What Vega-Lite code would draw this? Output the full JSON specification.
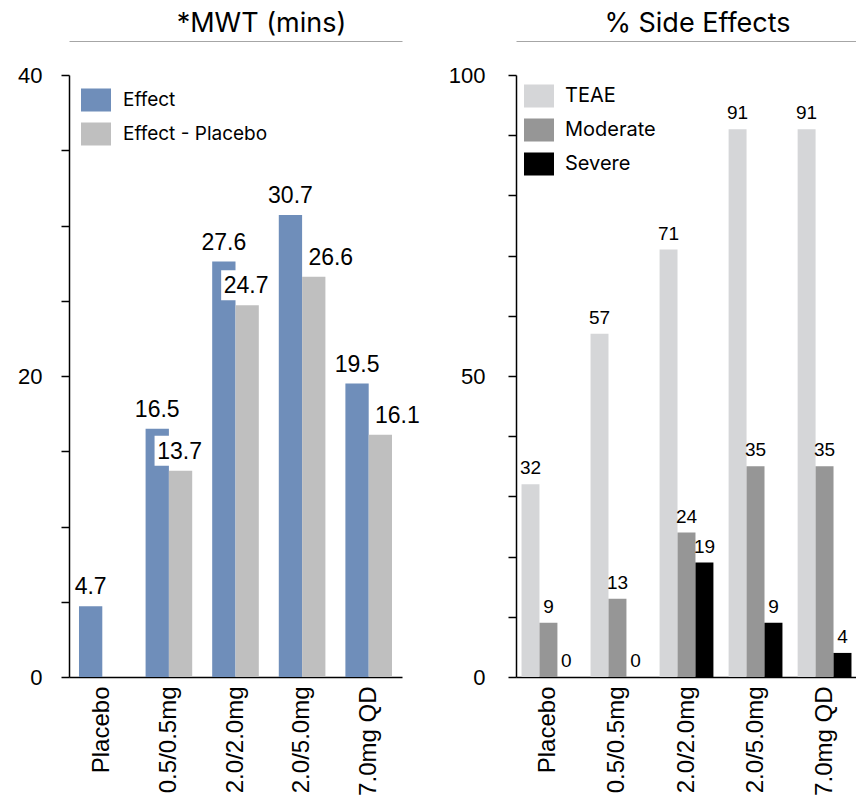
{
  "$schema": "https://vega.github.io/schema/vega-lite/v6.json",
  "padding": {"left": 17, "top": 10, "right": 0, "bottom": 0},
  "background": "white",
  "bounds": "flush",
  "config": {
    "view": {"stroke": null},
    "font": "Liberation Sans",
    "axis": {"labelColor": "black", "grid": false, "title": null},
    "title": {"font": "Inter", "fontWeight": "normal", "color": "black", "fontSize": 27, "anchor": "middle", "offset": 3}
  },
  "datasets": {
    "mwt": [
      {"dose": "Placebo", "series": "Effect", "value": 4.7},
      {"dose": "0.5/0.5mg", "series": "Effect", "value": 16.5},
      {"dose": "0.5/0.5mg", "series": "Effect - Placebo", "value": 13.7},
      {"dose": "2.0/2.0mg", "series": "Effect", "value": 27.6},
      {"dose": "2.0/2.0mg", "series": "Effect - Placebo", "value": 24.7},
      {"dose": "2.0/5.0mg", "series": "Effect", "value": 30.7},
      {"dose": "2.0/5.0mg", "series": "Effect - Placebo", "value": 26.6},
      {"dose": "7.0mg QD", "series": "Effect", "value": 19.5},
      {"dose": "7.0mg QD", "series": "Effect - Placebo", "value": 16.1}
    ],
    "se": [
      {"dose": "Placebo", "series": "TEAE", "value": 32},
      {"dose": "Placebo", "series": "Moderate", "value": 9},
      {"dose": "Placebo", "series": "Severe", "value": 0},
      {"dose": "0.5/0.5mg", "series": "TEAE", "value": 57},
      {"dose": "0.5/0.5mg", "series": "Moderate", "value": 13},
      {"dose": "0.5/0.5mg", "series": "Severe", "value": 0},
      {"dose": "2.0/2.0mg", "series": "TEAE", "value": 71},
      {"dose": "2.0/2.0mg", "series": "Moderate", "value": 24},
      {"dose": "2.0/2.0mg", "series": "Severe", "value": 19},
      {"dose": "2.0/5.0mg", "series": "TEAE", "value": 91},
      {"dose": "2.0/5.0mg", "series": "Moderate", "value": 35},
      {"dose": "2.0/5.0mg", "series": "Severe", "value": 9},
      {"dose": "7.0mg QD", "series": "TEAE", "value": 91},
      {"dose": "7.0mg QD", "series": "Moderate", "value": 35},
      {"dose": "7.0mg QD", "series": "Severe", "value": 4}
    ]
  },
  "spacing": 114,
  "resolve": {"scale": {"color": "independent", "y": "independent", "x": "independent", "xOffset": "independent"}, "legend": {"color": "independent"}},
  "hconcat": [
    {
      "width": 333,
      "height": 602,
      "title": {"text": "*MWT (mins)", "dx": 26},
      "data": {"name": "mwt"},
      "resolve": {"axis": {"x": "independent"}},
      "encoding": {
        "x": {"field": "dose", "type": "nominal", "sort": ["Placebo", "0.5/0.5mg", "2.0/2.0mg", "2.0/5.0mg", "7.0mg QD"], "scale": {"paddingInner": 0.3, "paddingOuter": 0.15}},
        "xOffset": {"field": "series", "type": "nominal", "sort": ["Effect", "Effect - Placebo"], "scale": {"paddingInner": 0, "paddingOuter": 0}},
        "y": {"field": "value", "type": "quantitative", "scale": {"domain": [0, 40], "nice": false},
          "axis": {"values": [0, 5, 10, 15, 20, 25, 30, 35, 40], "labelExpr": "datum.value % 20 === 0 ? datum.label : ''", "tickSize": 8, "tickColor": "black", "tickWidth": 1.5, "domainColor": "black", "domainWidth": 1.5, "labelFontSize": 22, "labelPadding": 19}}
      },
      "layer": [
        {
          "mark": {"type": "bar"},
          "encoding": {
            "x": {"field": "dose", "type": "nominal", "sort": ["Placebo", "0.5/0.5mg", "2.0/2.0mg", "2.0/5.0mg", "7.0mg QD"],
              "axis": {"labelAngle": -90, "labelAlign": "right", "labelBaseline": "middle", "ticks": false, "domainColor": "black", "domainWidth": 1.5, "labelFontSize": 24, "labelPadding": 9}},
            "color": {"field": "series", "type": "nominal", "scale": {"domain": ["Effect", "Effect - Placebo"], "range": ["#6F8EBA", "#BFBFBF"]},
              "legend": {"title": null, "orient": "none", "legendX": 12, "legendY": 10, "symbolType": "M-1,-0.767L1,-0.767L1,0.767L-1,0.767Z", "symbolSize": 900, "symbolStrokeWidth": 0, "symbolOpacity": 1, "labelFontSize": 19, "labelFont": "Inter", "labelColor": "black", "labelOffset": 12, "rowPadding": 7, "padding": 0}}
          }
        },
        {
          "transform": [{"filter": "datum.series === 'Effect - Placebo' && (datum.dose === '0.5/0.5mg' || datum.dose === '2.0/2.0mg')"}],
          "mark": {"type": "bar", "color": "white", "width": 52, "xOffset": -2, "yOffset": -5, "y2Offset": -35},
          "encoding": {
            "x": {"field": "dose", "type": "nominal", "sort": ["Placebo", "0.5/0.5mg", "2.0/2.0mg", "2.0/5.0mg", "7.0mg QD"], "axis": null},
            "y2": {"field": "value"}
          }
        },
        {
          "transform": [{"filter": "datum.series === 'Effect'"}],
          "mark": {"type": "text", "baseline": "alphabetic", "dy": -12, "fontSize": 23, "color": "black"},
          "encoding": {
            "x": {"field": "dose", "type": "nominal", "sort": ["Placebo", "0.5/0.5mg", "2.0/2.0mg", "2.0/5.0mg", "7.0mg QD"],
              "axis": {"orient": "top", "labels": false, "ticks": false, "domainColor": "#A6A6A6", "domainWidth": 1, "offset": 34}},
            "text": {"field": "value", "type": "quantitative", "format": ".1f"}
          }
        },
        {
          "transform": [{"filter": "datum.series === 'Effect - Placebo' && (datum.dose === '0.5/0.5mg' || datum.dose === '2.0/2.0mg')"}],
          "mark": {"type": "text", "baseline": "alphabetic", "dy": -12, "dx": -1, "fontSize": 23, "color": "black"},
          "encoding": {
            "x": {"field": "dose", "type": "nominal", "sort": ["Placebo", "0.5/0.5mg", "2.0/2.0mg", "2.0/5.0mg", "7.0mg QD"], "axis": null},
            "text": {"field": "value", "type": "quantitative", "format": ".1f"}
          }
        },
        {
          "transform": [{"filter": "datum.series === 'Effect - Placebo' && (datum.dose === '2.0/5.0mg' || datum.dose === '7.0mg QD')"}],
          "mark": {"type": "text", "baseline": "alphabetic", "dy": -12, "dx": 17, "fontSize": 23, "color": "black"},
          "encoding": {
            "x": {"field": "dose", "type": "nominal", "sort": ["Placebo", "0.5/0.5mg", "2.0/2.0mg", "2.0/5.0mg", "7.0mg QD"], "axis": null},
            "text": {"field": "value", "type": "quantitative", "format": ".1f"}
          }
        }
      ]
    },
    {
      "width": 341,
      "height": 602,
      "title": {"text": "% Side Effects", "dx": 11},
      "data": {"name": "se"},
      "resolve": {"axis": {"x": "independent"}},
      "encoding": {
        "x": {"field": "dose", "type": "nominal", "sort": ["Placebo", "0.5/0.5mg", "2.0/2.0mg", "2.0/5.0mg", "7.0mg QD"], "scale": {"paddingInner": 0.22, "paddingOuter": 0.08}},
        "xOffset": {"field": "series", "type": "nominal", "sort": ["TEAE", "Moderate", "Severe"], "scale": {"paddingInner": 0, "paddingOuter": 0}},
        "y": {"field": "value", "type": "quantitative", "scale": {"domain": [0, 100], "nice": false},
          "axis": {"values": [0, 10, 20, 30, 40, 50, 60, 70, 80, 90, 100], "labelExpr": "datum.value % 50 === 0 ? datum.label : ''", "tickSize": 8, "tickColor": "black", "tickWidth": 1.5, "domainColor": "black", "domainWidth": 1.5, "labelFontSize": 22, "labelPadding": 23}}
      },
      "layer": [
        {
          "mark": {"type": "bar"},
          "encoding": {
            "x": {"field": "dose", "type": "nominal", "sort": ["Placebo", "0.5/0.5mg", "2.0/2.0mg", "2.0/5.0mg", "7.0mg QD"],
              "axis": {"labelAngle": -90, "labelAlign": "right", "labelBaseline": "middle", "ticks": false, "domainColor": "black", "domainWidth": 1.5, "labelFontSize": 24, "labelPadding": 9}},
            "color": {"field": "series", "type": "nominal", "scale": {"domain": ["TEAE", "Moderate", "Severe"], "range": ["#D5D6D8", "#969696", "#000000"]},
              "legend": {"title": null, "orient": "none", "legendX": 8, "legendY": 6, "symbolType": "M-1,-0.767L1,-0.767L1,0.767L-1,0.767Z", "symbolSize": 900, "symbolStrokeWidth": 0, "symbolOpacity": 1, "labelFontSize": 20, "labelFont": "Inter", "labelColor": "black", "labelOffset": 11, "rowPadding": 7, "padding": 0}}
          }
        },
        {
          "mark": {"type": "text", "baseline": "alphabetic", "dy": -10, "fontSize": 19, "color": "black"},
          "encoding": {
            "x": {"field": "dose", "type": "nominal", "sort": ["Placebo", "0.5/0.5mg", "2.0/2.0mg", "2.0/5.0mg", "7.0mg QD"],
              "axis": {"orient": "top", "labels": false, "ticks": false, "domainColor": "#A6A6A6", "domainWidth": 1, "offset": 34}},
            "text": {"field": "value", "type": "quantitative", "format": "d"}
          }
        }
      ]
    }
  ]
}
